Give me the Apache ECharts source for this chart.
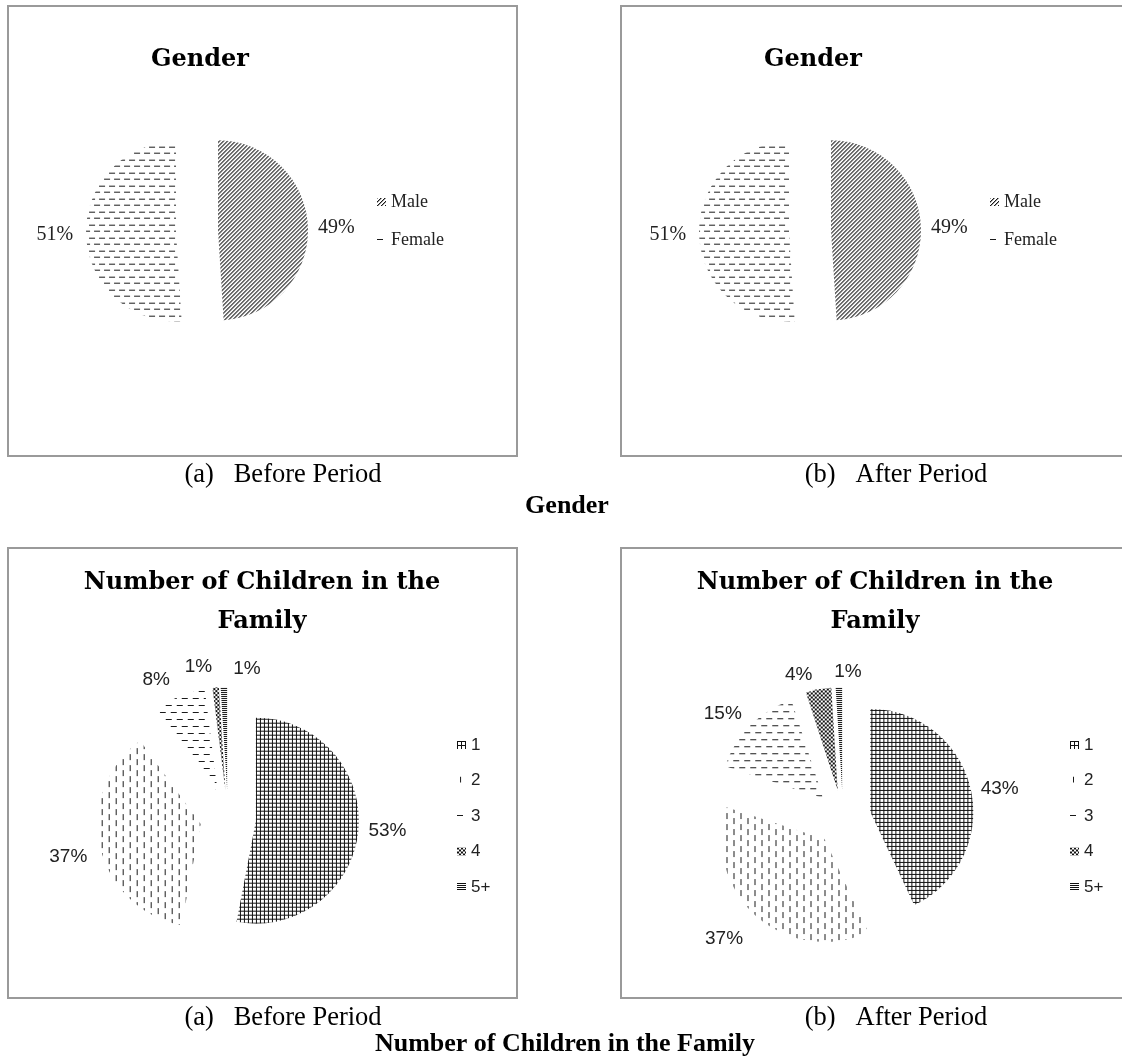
<!DOCTYPE html>
<html>
<head>
<meta charset="utf-8">
<script src="https://cdn.jsdelivr.net/npm/echarts@6/dist/echarts.min.js"></script>
<style>
  html, body { margin: 0; padding: 0; background: #fff; }
  #chart { width: 1122px; height: 1062px; }
</style>
</head>
<body>
<div id="chart"></div>
<script>
// ---- data ----
const genderCategories = ['Male', 'Female'];
const genderBefore = [49, 51];
const genderAfter = [49, 51];

const childCategories = ['1', '2', '3', '4', '5+'];
const childrenBefore = [53, 37, 8, 1, 1];
const childrenAfter = [43, 37, 15, 4, 1];

const panelTitles = ['Gender', 'Number of Children in the\nFamily'];
const panelCaptions = ['(a)   Before Period', '(b)   After Period'];
const figureCaptions = ['Gender', 'Number of Children in the Family'];

// ---- hatch fills (small repeating canvas tiles) ----
function tile(w, h, draw) {
  const c = document.createElement('canvas');
  c.width = w; c.height = h;
  const g = c.getContext('2d');
  g.fillStyle = '#fff';
  g.fillRect(0, 0, w, h);
  draw(g);
  return { image: c, repeat: 'repeat' };
}
function rect(g, color, x, y, w, h) { g.fillStyle = color; g.fillRect(x, y, w, h); }

const fillDiagonal = tile(4, 4, g => {
  for (let y = 0; y < 4; y++) {
    rect(g, '#1a1a1a', (3 - y + 4) % 4, y, 1, 1);
    rect(g, '#9a9a9a', (4 - y + 4) % 4, y, 1, 1);
  }
});
const fillDashH = tile(20, 13, g => {
  rect(g, '#1a1a1a', 0, 3, 6, 1); rect(g, '#1a1a1a', 10, 3, 6, 1);
  rect(g, '#1a1a1a', 5, 9, 6, 1); rect(g, '#1a1a1a', 15, 9, 5, 1); rect(g, '#1a1a1a', 0, 9, 1, 1);
});
const fillGrid = tile(4, 4, g => {
  rect(g, '#111', 0, 0, 4, 1);
  rect(g, '#111', 0, 0, 1, 4);
});
const fillDashV = tile(14, 22, g => {
  rect(g, '#1a1a1a', 3, 0, 1, 6); rect(g, '#1a1a1a', 3, 11, 1, 6);
  rect(g, '#1a1a1a', 10, 5, 1, 6); rect(g, '#1a1a1a', 10, 16, 1, 6);
});
const fillDashWide = tile(22, 14, g => {
  rect(g, '#1a1a1a', 0, 3, 6, 1); rect(g, '#1a1a1a', 11, 3, 6, 1);
  rect(g, '#1a1a1a', 5, 10, 6, 1); rect(g, '#1a1a1a', 16, 10, 6, 1);
});
const fillChecker = tile(4, 4, g => {
  rect(g, '#111', 0, 0, 2, 2);
  rect(g, '#111', 2, 2, 2, 2);
});
const fillLines = tile(2, 2, g => {
  rect(g, '#111', 0, 0, 2, 1);
});

const genderFills = [fillDiagonal, fillDashH];
const childFills = [fillGrid, fillDashV, fillDashWide, fillChecker, fillLines];

// ---- layout ----
const colShift = 613;
const serif = '"Liberation Serif", "Times New Roman", serif';
const titleSerif = '"DejaVu Serif", "Liberation Serif", serif';
const sans = '"Liberation Sans", Arial, sans-serif';

// small label shifts so crowded percentages sit beside their thin slices
const genderLabelShift = [{}, { dx: -3 }];
const childBeforeLabelShift = [{}, { dx: -3, dy: 9 }, { dx: -3, dy: -12 }, { dx: 2, dy: -16 }, { dx: 42, dy: -13 }];
const childAfterLabelShift = [{}, { dx: -5, dy: 19 }, { dy: -8 }, { dy: -10 }, { dx: 28, dy: -10 }];

function pieSeries(values, names, fills, center, radius, offset, font, shifts) {
  return {
    type: 'pie',
    center: center,
    radius: radius,
    startAngle: 90,
    clockwise: true,
    selectedMode: 'multiple',
    selectedOffset: offset,
    avoidLabelOverlap: false,
    animation: false,
    silent: true,
    emphasis: { disabled: true },
    itemStyle: { borderWidth: 0 },
    label: {
      show: true,
      position: 'outside',
      formatter: '{c}%',
      color: '#222',
      fontFamily: font.family,
      fontSize: font.size,
      distanceToLabelLine: 5
    },
    labelLine: { show: false, length: 5, length2: 0 },
    labelLayout: function (p) { return (shifts && shifts[p.dataIndex]) || {}; },
    data: names.map((n, i) => ({
      name: n,
      value: values[i],
      selected: true,
      itemStyle: { color: fills[i] }
    }))
  };
}

const genderFont = { family: serif, size: 20 };
const childFont = { family: sans, size: 19 };

const series = [
  pieSeries(genderBefore, genderCategories, genderFills, [197, 231], 90, 21, genderFont, genderLabelShift),
  pieSeries(genderAfter, genderCategories, genderFills, [197 + colShift, 231], 90, 21, genderFont, genderLabelShift),
  pieSeries(childrenBefore, childCategories, childFills, [228, 818], 103, 28, childFont, childBeforeLabelShift),
  pieSeries(childrenAfter, childCategories, childFills, [228 + colShift + 2, 818], 103, 28, childFont, childAfterLabelShift)
];

function legendAt(names, left, top, gap, font) {
  return {
    data: names,
    orient: 'vertical',
    left: left,
    top: top,
    padding: 0,
    icon: 'rect',
    itemWidth: 9,
    itemHeight: 8,
    itemGap: gap,
    selectedMode: false,
    textStyle: { color: '#222', fontFamily: font.family, fontSize: font.size, lineHeight: 18 }
  };
}

const legendGenderFont = { family: serif, size: 18 };
const legendChildFont = { family: sans, size: 17 };

const legends = [
  legendAt(genderCategories, 377, 193, 20, legendGenderFont),
  legendAt(genderCategories, 377 + colShift, 193, 20, legendGenderFont),
  legendAt(childCategories, 457, 736, 17.5, legendChildFont),
  legendAt(childCategories, 457 + colShift, 736, 17.5, legendChildFont)
];

// panel frames, titles and captions
const graphics = [];
[[8, 6], [8 + colShift, 6], [8, 548], [8 + colShift, 548]].forEach(p => {
  graphics.push({
    type: 'rect', silent: true,
    shape: { x: p[0], y: p[1], width: 509, height: 450 },
    style: { fill: 'none', stroke: '#9a9a9a', lineWidth: 2 }
  });
});
function text(str, x, y, size, weight, family, lineHeight) {
  graphics.push({
    type: 'text', silent: true, x: x, y: y,
    style: {
      text: str, fill: '#000', fontFamily: family, fontSize: size, fontWeight: weight,
      lineHeight: lineHeight, textAlign: 'center', textVerticalAlign: 'middle'
    }
  });
}
text(panelTitles[0], 200, 60, 24, 'bold', titleSerif);
text(panelTitles[0], 200 + colShift, 60, 24, 'bold', titleSerif);
text(panelTitles[1], 262, 602, 24, 'bold', titleSerif, 39);
text(panelTitles[1], 262 + colShift, 602, 24, 'bold', titleSerif, 39);
text(panelCaptions[0], 283, 475, 26.5, 'normal', serif);
text(panelCaptions[1], 283 + colShift, 475, 26.5, 'normal', serif);
text(figureCaptions[0], 567, 506, 26, 'bold', serif);
text(panelCaptions[0], 283, 1018, 26.5, 'normal', serif);
text(panelCaptions[1], 283 + colShift, 1018, 26.5, 'normal', serif);
text(figureCaptions[1], 565, 1044, 26, 'bold', serif);

const chart = echarts.init(document.getElementById('chart'), null, { renderer: 'canvas' });
chart.setOption({
  backgroundColor: '#fff',
  animation: false,
  legend: legends,
  series: series,
  graphic: graphics
});
</script>
</body>
</html>
